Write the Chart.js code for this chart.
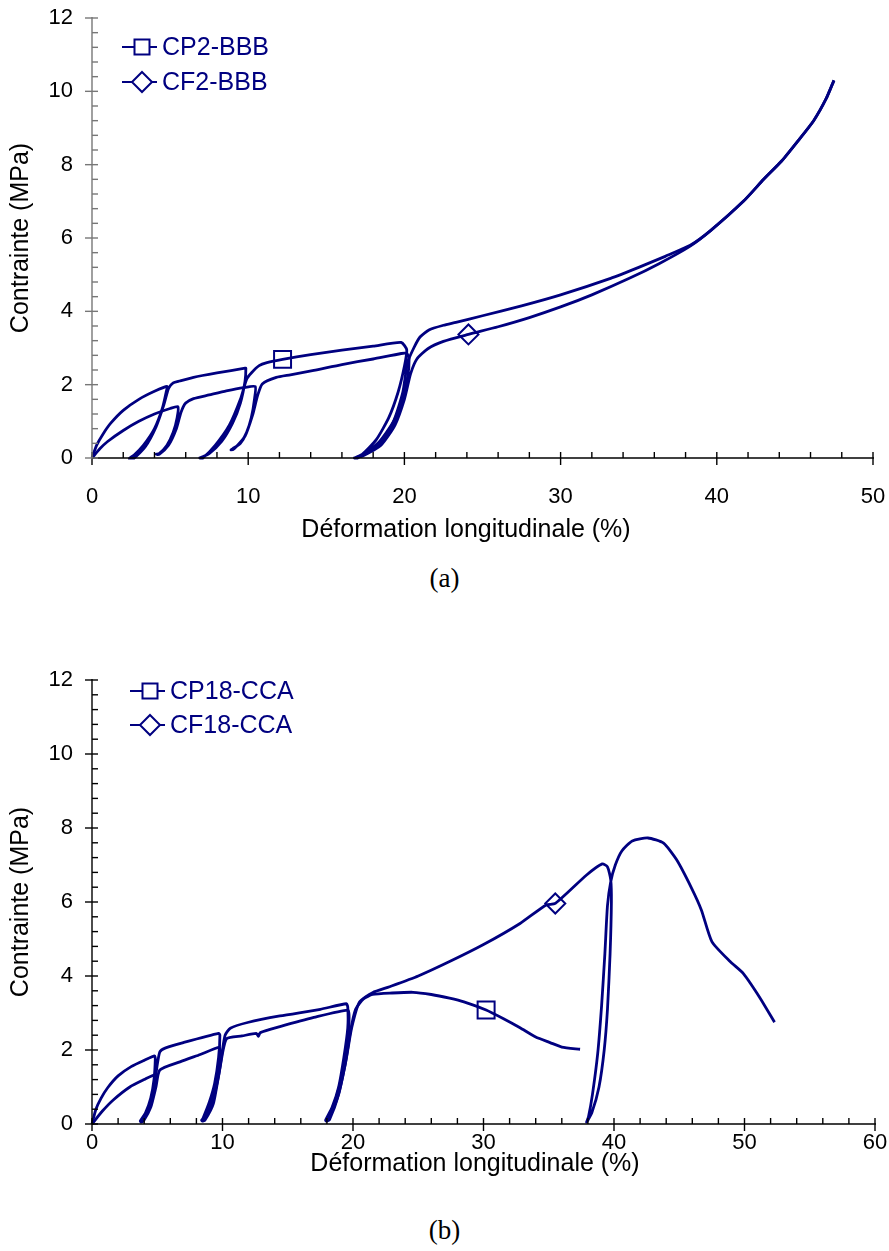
<!DOCTYPE html>
<html>
<head>
<meta charset="utf-8">
<script src="https://cdn.jsdelivr.net/npm/chart.js@4.4.1/dist/chart.umd.min.js"></script>
<style>
  body { margin: 0; background: #fff; }
  #page { position: relative; width: 889px; height: 1251px; overflow: hidden; }
  .box { position: absolute; left: 0; width: 889px; height: 560px; }
  .cap { position: absolute; left: 0; width: 889px; text-align: center;
         font-family: "Liberation Serif", "Times New Roman", serif; font-size: 27px; line-height: 30px; }
</style>
</head>
<body>
<div id="page">
  <div class="box" style="top:0"><canvas id="chartA" width="889" height="560"></canvas></div>
  <div class="cap" style="top:563px">(a)</div>
  <div class="box" style="top:640px"><canvas id="chartB" width="889" height="560"></canvas></div>
  <div class="cap" style="top:1215px">(b)</div>
</div>
<script>
const NAVY = '#000080';

// ---- (a) CP2-BBB / CF2-BBB ----
const cp2X = [0, 0.3, 0.7, 1.2, 2, 3, 4, 4.8,
  4.75, 4.5, 4, 3.3, 2.7, 2.4,
  2.7, 3.4, 4.1, 4.6, 4.9, 5.2, 5.6, 6.5, 8, 9.8,
  9.85, 9.8, 9.5, 9, 8.3, 7.5, 6.9,
  7.1, 7.9, 8.8, 9.5, 9.9, 10.2, 10.7, 11.2, 12.2, 14, 16, 18, 19.8,
  20.15, 20.0, 19.6, 19, 18.2, 17.3, 16.8,
  17.0, 18.3, 19.3, 19.9, 20.2, 20.6, 21, 21.6, 22.5, 23.3,
  25, 27.5, 30, 33.2, 35, 36.7, 38.3, 39.6, 41.7, 43, 44.15, 45.2, 46.2, 47, 47.5];
const cp2Y = [0, 0.35, 0.65, 0.95, 1.3, 1.6, 1.82, 1.95,
  1.8, 1.35, 0.8, 0.35, 0.08, 0,
  0, 0.3, 0.85, 1.45, 1.9, 2.05, 2.1, 2.2, 2.32, 2.45,
  2.45, 2.1, 1.5, 0.95, 0.45, 0.12, 0,
  0, 0.35, 0.9, 1.6, 2.15, 2.32, 2.52, 2.6, 2.69, 2.82, 2.94, 3.05, 3.15,
  2.95, 2.5, 1.8, 1.1, 0.5, 0.1, 0,
  0, 0.4, 1.0, 1.8, 2.6, 3.0, 3.3, 3.5, 3.62, 3.7,
  3.88, 4.15, 4.45, 4.9, 5.2, 5.5, 5.8, 6.2, 7.0, 7.6, 8.1, 8.65, 9.2, 9.8, 10.3];

const cf2X = [0, 0.5, 1, 2, 3, 4, 5, 5.5,
  5.45, 5.2, 4.8, 4.3, 4.1,
  4.3, 4.9, 5.4, 5.7, 6.0, 6.5, 7.5, 8.6, 9.7, 10.45,
  10.4, 10.2, 9.9, 9.5, 9.0, 8.9,
  9.1, 9.8, 10.3, 10.6, 10.9, 11.8, 12.7, 14.2, 16, 18, 19.8, 20.15,
  20.3, 20.2, 19.8, 19.2, 18.3, 17.3, 17.0,
  17.3, 18.5, 19.4, 20, 20.4, 20.8, 21.5, 22.5, 24.1, 26, 28, 30, 32, 34.4, 36.3, 38.3, 39.6,
  41.7, 43, 44.15, 45.2, 46.2, 47, 47.5];
const cf2Y = [0, 0.25, 0.45, 0.75, 1.0, 1.2, 1.35, 1.4,
  1.1, 0.7, 0.35, 0.12, 0.1,
  0.1, 0.35, 0.8, 1.25, 1.5, 1.62, 1.72, 1.83, 1.92, 1.95,
  1.6, 1.1, 0.7, 0.4, 0.25, 0.22,
  0.25, 0.6, 1.2, 1.7, 2.02, 2.2, 2.27, 2.39, 2.55, 2.7, 2.85, 2.85,
  2.7, 2.2, 1.5, 0.9, 0.35, 0.05, 0.03,
  0.05, 0.35, 0.9, 1.6, 2.3, 2.7, 2.98, 3.18, 3.37, 3.58, 3.83, 4.12, 4.45, 4.9, 5.3, 5.78, 6.2,
  7.0, 7.6, 8.1, 8.65, 9.2, 9.8, 10.3];

const markAX = [12.2, 24.1];
const markAY = [2.69, 3.37];

// ---- (b) CP18-CCA / CF18-CCA ----
const cp18X = [0, 0.3, 0.7, 1.2, 2, 3, 4, 4.8,
  4.85, 4.75, 4.5, 4.1, 3.7,
  3.9, 4.4, 4.8, 5.0, 5.2, 5.6, 7, 9.7,
  9.8, 9.7, 9.4, 9.0, 8.5, 8.4,
  8.6, 9.2, 9.7, 10.0, 10.2, 10.6, 12, 14.4, 17.5, 19.5,
  19.6, 19.6, 19.3, 18.9, 18.4, 17.9,
  18.1, 18.8, 19.4, 19.8, 20.2, 20.8, 21.5, 23, 24.6, 26, 27.4, 28.5, 30.2, 31.5, 32.8, 34, 35.1, 36, 37.4];
const cp18Y = [0, 0.4, 0.7, 0.98, 1.3, 1.55, 1.72, 1.84,
  1.75, 1.2, 0.7, 0.3, 0.08,
  0.1, 0.5, 1.1, 1.6, 1.95, 2.05, 2.2, 2.45,
  2.4, 1.8, 1.1, 0.6, 0.15, 0.1,
  0.15, 0.6, 1.3, 2.0, 2.4, 2.59, 2.75, 2.92, 3.1, 3.25,
  3.15, 2.6, 1.8, 1.0, 0.45, 0.1,
  0.15, 0.7, 1.6, 2.5, 3.1, 3.38, 3.5, 3.54, 3.56, 3.5, 3.4, 3.3, 3.08, 2.85, 2.6, 2.35, 2.2, 2.08, 2.02];

const cf18X = [0, 0.8, 1.63, 2.9, 4.0, 4.8,
  4.85, 4.7, 4.4, 4.0, 3.75,
  3.95, 4.5, 4.9, 5.2, 6.74, 8.3, 9.75,
  9.8, 9.65, 9.3, 8.9, 8.45,
  8.65, 9.3, 9.8, 10.3, 11.5, 12.6, 12.75, 12.9, 14.4, 17, 19.6,
  19.7, 19.6, 19.2, 18.7, 18.2, 17.95,
  18.2, 18.9, 19.5, 19.9, 20.5, 21.5, 22.8, 25, 27.4, 30, 32.8, 34.8, 35.5, 37.9, 39.1, 39.5,
  39.75, 39.8, 39.7, 39.5, 39.25, 38.85, 38.3, 37.9,
  38.05, 38.35, 38.75, 39.05, 39.3, 39.5, 39.75, 40.1, 40.6, 41.4, 42.6, 43.8, 44.8, 45.95, 46.7, 47.5, 48.9, 49.9, 51.2, 52.3];
const cf18Y = [0, 0.35, 0.65, 1.0, 1.2, 1.33,
  1.2, 0.8, 0.4, 0.12, 0.05,
  0.08, 0.45, 1.0, 1.46, 1.68, 1.88, 2.07,
  1.9, 1.2, 0.6, 0.25, 0.08,
  0.1, 0.55, 1.5, 2.3, 2.38, 2.45, 2.37, 2.47, 2.63, 2.88, 3.08,
  2.9, 2.2, 1.4, 0.7, 0.25, 0.08,
  0.12, 0.8, 1.8, 2.6, 3.3, 3.55, 3.71, 4.0, 4.39, 4.85, 5.42, 5.92, 5.96, 6.73, 7.03, 6.95,
  6.6, 6.0, 4.6, 3.1, 2.0, 1.0, 0.3, 0.05,
  0.2, 0.8, 1.9, 3.2, 4.6, 5.9, 6.55, 7.0, 7.38, 7.65, 7.73, 7.59, 7.14, 6.37, 5.78, 4.93, 4.39, 4.07, 3.4, 2.75];

const markBX = [30.2, 35.5];
const markBY = [3.08, 5.96];

// tick labels
const yTicks = [0, 2, 4, 6, 8, 10, 12];
const xTicksA = [0, 10, 20, 30, 40, 50];
const xTicksB = [0, 10, 20, 30, 40, 50, 60];

const FONT = '"Liberation Sans", Arial, sans-serif';
const X_TITLE = 'Déformation longitudinale (%)';

function pts(xs, ys) {
  return xs.map((x, i) => ({ x: x, y: ys[i] }));
}

function series(label, xs, ys, style) {
  return {
    label: label, data: pts(xs, ys), showLine: true,
    borderColor: NAVY, borderWidth: 2.8, pointRadius: 0, tension: 0.2,
    clip: false, legendStyle: style
  };
}

function marker(x, y, style, r) {
  return {
    data: [{ x: x, y: y }], showLine: false, pointStyle: style, pointRadius: r,
    backgroundColor: '#fff', borderColor: NAVY, borderWidth: 2, clip: false
  };
}

// minor/major ticks, axis lines, x title and the in-plot legend
const axesPlugin = {
  id: 'axes',
  afterDraw(chart, args, o) {
    const ctx = chart.ctx, a = chart.chartArea;
    const x = chart.scales.x, y = chart.scales.y;
    const seg = (x1, y1, x2, y2) => { ctx.beginPath(); ctx.moveTo(x1, y1); ctx.lineTo(x2, y2); ctx.stroke(); };
    ctx.save();
    ctx.lineWidth = 1.4;
    ctx.strokeStyle = '#000';
    seg(a.left, a.bottom, a.right + 1, a.bottom);
    for (let v = 0; v <= x.max + 1e-6; v += 2) {
      const px = x.getPixelForValue(v);
      const major = v % 10 === 0;
      seg(px, a.bottom - 6, px, a.bottom + (major ? 7 : 0));
    }
    ctx.strokeStyle = o.yColor;
    seg(a.left, a.bottom, a.left, a.top - 1);
    for (let k = 0; k <= 30; k++) {
      const py = y.getPixelForValue(k * 0.4);
      const major = k % 5 === 0;
      seg(a.left - (major ? 7 : 0), py, a.left + 6, py);
    }
    // x axis title
    ctx.font = '25px ' + FONT;
    ctx.textBaseline = 'middle';
    ctx.textAlign = 'center';
    ctx.fillStyle = '#000';
    ctx.fillText(X_TITLE, o.xTitleX, o.xTitleY);
    // legend
    ctx.textAlign = 'left';
    chart.data.datasets.slice(0, 2).forEach((ds, i) => {
      const ly = o.legY + i * o.legGap;
      ctx.strokeStyle = NAVY;
      ctx.lineWidth = 2;
      seg(o.legX, ly, o.legX + 35, ly);
      ctx.fillStyle = '#fff';
      ctx.beginPath();
      const cx = o.legX + 20;
      if (ds.legendStyle === 'rect') {
        ctx.rect(cx - 7.5, ly - 7.5, 15, 15);
      } else {
        ctx.moveTo(cx, ly - 10); ctx.lineTo(cx + 10, ly); ctx.lineTo(cx, ly + 10); ctx.lineTo(cx - 10, ly); ctx.closePath();
      }
      ctx.fill(); ctx.stroke();
      ctx.fillStyle = NAVY;
      ctx.fillText(ds.label, o.legX + 40, ly + 1);
    });
    ctx.restore();
  }
};

function options(xMax, xTicks, pad, xBox, xTickPad, yColor, extra) {
  return {
    responsive: false, animation: false, devicePixelRatio: 1,
    layout: { padding: pad },
    plugins: { legend: { display: false }, tooltip: { enabled: false }, axes: Object.assign({ yColor: yColor }, extra) },
    scales: {
      x: {
        type: 'linear', min: 0, max: xMax,
        grid: { display: false, drawTicks: false }, border: { display: false },
        afterBuildTicks: s => { s.ticks = xTicks.map(v => ({ value: v })); },
        afterFit: s => { s.height = xBox; s.paddingLeft = 0; s.paddingRight = 0; },
        ticks: { color: '#000', padding: xTickPad, font: { family: FONT, size: 22 } }
      },
      y: {
        type: 'linear', min: 0, max: 12,
        grid: { display: false, drawTicks: false }, border: { display: false },
        afterBuildTicks: s => { s.ticks = yTicks.map(v => ({ value: v })); },
        afterFit: s => { s.width = 92; s.paddingTop = 0; s.paddingBottom = 0; },
        ticks: { color: '#000', padding: 19, font: { family: FONT, size: 22 } },
        title: { display: true, text: 'Contrainte (MPa)', color: '#000',
                 font: { family: FONT, size: 25, lineHeight: 1 }, padding: { top: 9, bottom: 0 } }
      }
    }
  };
}

new Chart(document.getElementById('chartA'), {
  type: 'scatter',
  data: { datasets: [
    series('CP2-BBB', cp2X, cp2Y, 'rect'),
    series('CF2-BBB', cf2X, cf2Y, 'rectRot'),
    marker(markAX[0], markAY[0], 'rect', 12),
    marker(markAX[1], markAY[1], 'rectRot', 10)
  ] },
  options: options(50, xTicksA, { top: 18, right: 16, left: 0, bottom: 0 }, 102, 26, '#777',
                   { legX: 122, legY: 47, legGap: 35, xTitleX: 466, xTitleY: 530 }),
  plugins: [axesPlugin]
});

new Chart(document.getElementById('chartB'), {
  type: 'scatter',
  data: { datasets: [
    series('CP18-CCA', cp18X, cp18Y, 'rect'),
    series('CF18-CCA', cf18X, cf18Y, 'rectRot'),
    marker(markBX[0], markBY[0], 'rect', 12),
    marker(markBX[1], markBY[1], 'rectRot', 10)
  ] },
  options: options(60, xTicksB, { top: 40, right: 14, left: 0, bottom: 0 }, 76, 6, '#000',
                   { legX: 130, legY: 51, legGap: 34, xTitleX: 475, xTitleY: 524 }),
  plugins: [axesPlugin]
});
</script>
</body>
</html>
